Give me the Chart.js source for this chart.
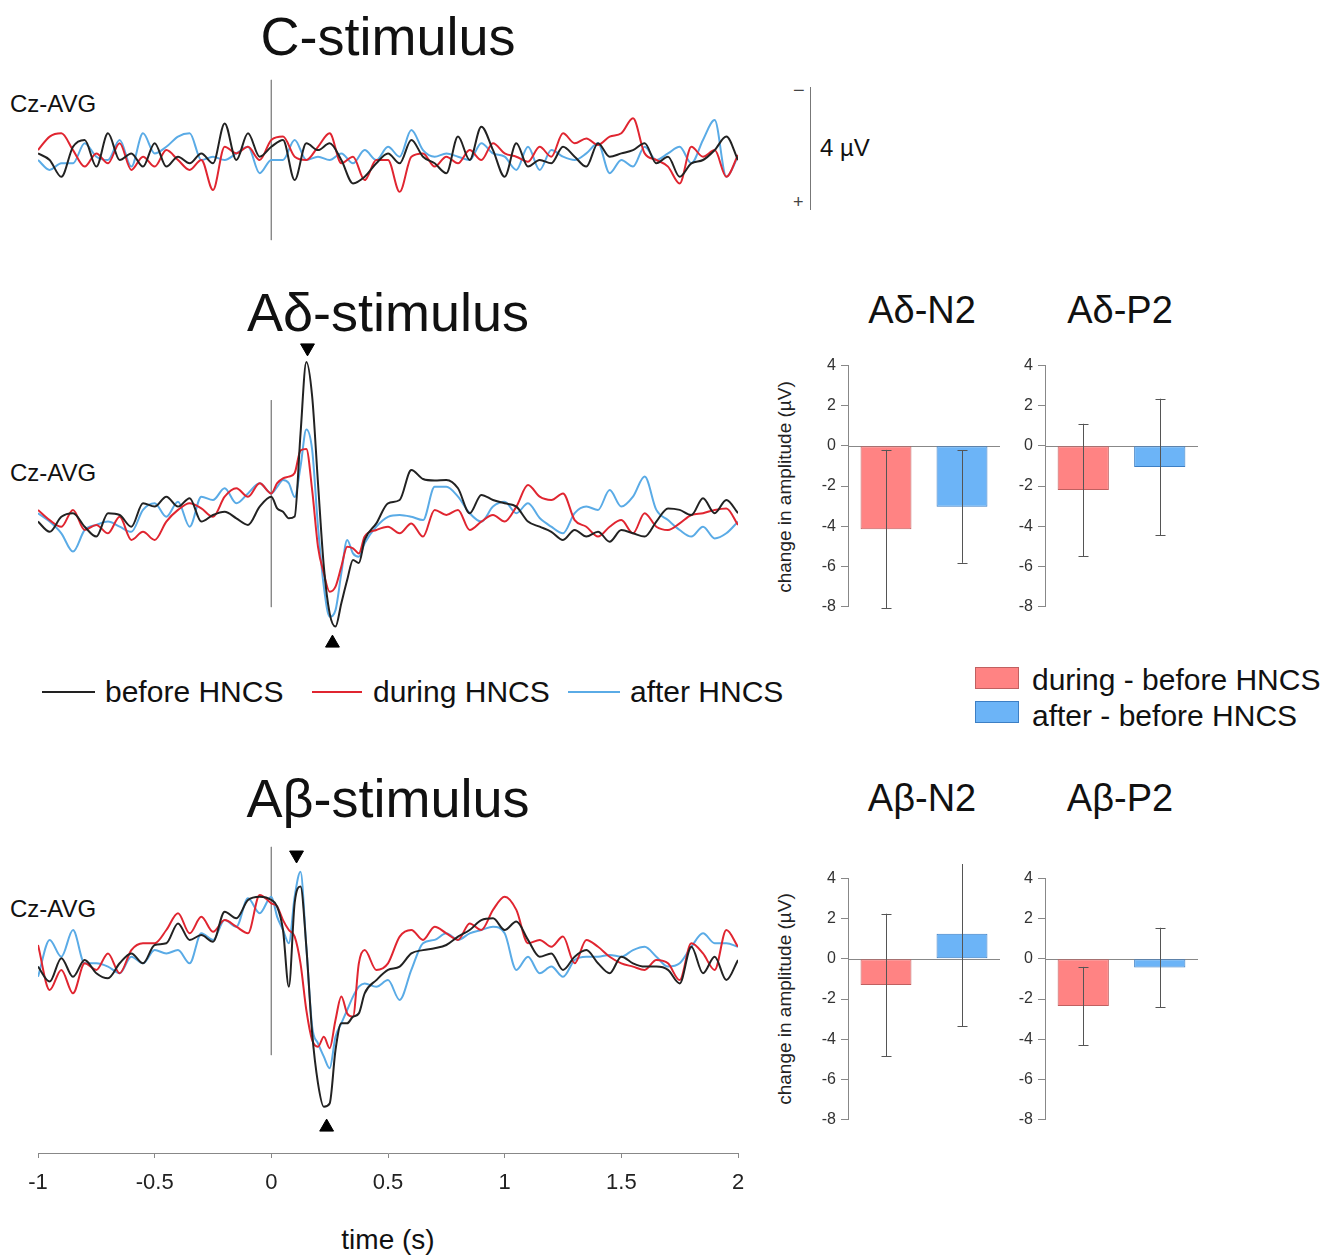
<!DOCTYPE html>
<html>
<head>
<meta charset="utf-8">
<script src="https://cdn.jsdelivr.net/npm/chart.js@4.4.1/dist/chart.umd.min.js"></script>
<style>
  body { margin: 0; background: #fff; font-family: "Liberation Sans", Arial, sans-serif; color: #111; }
  #page { position: relative; width: 1340px; height: 1256px; overflow: hidden; }
  canvas { position: absolute; }
  .t { position: absolute; line-height: 1; white-space: nowrap; }
  .c { transform: translateX(-50%); }
  .ytitle { position: absolute; font-size: 19px; line-height: 1; white-space: nowrap; color: #222;
            transform: translate(-50%, -50%) rotate(-90deg); }
  .lline { position: absolute; height: 2px; }
  .lbox { position: absolute; width: 44px; height: 22px; box-sizing: border-box; }
</style>
</head>
<body>
<div id="page">
  <div class="t c" style="left:388px; top:9px; font-size:54px;">C-stimulus</div>
  <div class="t c" style="left:388px; top:285px; font-size:54px;">A&delta;-stimulus</div>
  <div class="t c" style="left:388px; top:771px; font-size:54px;">A&beta;-stimulus</div>

  <div class="t" style="left:10px; top:92px; font-size:24px;">Cz-AVG</div>
  <div class="t" style="left:10px; top:461px; font-size:24px;">Cz-AVG</div>
  <div class="t" style="left:10px; top:897px; font-size:24px;">Cz-AVG</div>

  <div class="t c" style="left:922px; top:291px; font-size:38px;">A&delta;-N2</div>
  <div class="t c" style="left:1120px; top:291px; font-size:38px;">A&delta;-P2</div>
  <div class="t c" style="left:922px; top:779px; font-size:38px;">A&beta;-N2</div>
  <div class="t c" style="left:1120px; top:779px; font-size:38px;">A&beta;-P2</div>

  <div class="ytitle" style="left:784px; top:487px;">change in amplitude (&micro;V)</div>
  <div class="ytitle" style="left:784px; top:999px;">change in amplitude (&micro;V)</div>

  <!-- 4 uV scale bar -->
  <div style="position:absolute; left:810px; top:87px; width:1px; height:123px; background:#777;"></div>
  <div class="t" style="left:793px; top:80px; font-size:20px; color:#444;">&minus;</div>
  <div class="t" style="left:793px; top:193px; font-size:18px; color:#444;">+</div>
  <div class="t" style="left:820px; top:136px; font-size:24px;">4 &micro;V</div>

  <!-- trace legend -->
  <div class="lline" style="left:42px; top:691px; width:53px; background:#222;"></div>
  <div class="t" style="left:105px; top:677px; font-size:30px;">before HNCS</div>
  <div class="lline" style="left:312px; top:691px; width:50px; background:#e02530;"></div>
  <div class="t" style="left:373px; top:677px; font-size:30px;">during HNCS</div>
  <div class="lline" style="left:568px; top:691px; width:52px; background:#5aabe6;"></div>
  <div class="t" style="left:630px; top:677px; font-size:30px;">after HNCS</div>

  <!-- bar legend -->
  <div class="lbox" style="left:975px; top:667px; background:#ff8383; border:1px solid #c06060;"></div>
  <div class="t" style="left:1032px; top:665px; font-size:30px;">during - before HNCS</div>
  <div class="lbox" style="left:975px; top:701px; background:#6cb4f7; border:1px solid #3d7fc4;"></div>
  <div class="t" style="left:1032px; top:701px; font-size:30px;">after - before HNCS</div>

  <div class="t c" style="left:388px; top:1226px; font-size:28px;">time (s)</div>

  <canvas id="erpC" width="750" height="200" style="left:13px; top:60px;"></canvas>
  <canvas id="erpAd" width="750" height="356" style="left:13px; top:325px;"></canvas>
  <canvas id="erpAb" width="750" height="383" style="left:13px; top:815px;"></canvas>

  <canvas id="barAdN2" width="206" height="270" style="left:798px; top:351px;"></canvas>
  <canvas id="barAdP2" width="207" height="270" style="left:995px; top:351px;"></canvas>
  <canvas id="barAbN2" width="206" height="270" style="left:798px; top:864px;"></canvas>
  <canvas id="barAbP2" width="207" height="270" style="left:995px; top:864px;"></canvas>
</div>

<script>
// time points (s)
var timesC = [-1,-0.95,-0.9,-0.85,-0.8,-0.75,-0.7,-0.65,-0.6,-0.55,-0.5,-0.45,-0.4,-0.35,-0.3,-0.25,-0.2,-0.15,-0.1,-0.05,0,
  0.05,0.1,0.15,0.2,0.25,0.3,0.35,0.4,0.45,0.5,0.55,0.6,0.65,0.7,0.75,0.8,0.85,0.9,0.95,1,
  1.05,1.1,1.15,1.2,1.25,1.3,1.35,1.4,1.45,1.5,1.55,1.6,1.65,1.7,1.75,1.8,1.85,1.9,1.95,2];
var timesA = [-1,-0.95,-0.9,-0.85,-0.8,-0.75,-0.7,-0.65,-0.6,-0.55,-0.5,-0.45,-0.4,-0.35,-0.3,-0.25,-0.2,-0.15,-0.1,-0.05,0,
  0.025,0.05,0.075,0.1,0.125,0.15,0.175,0.2,0.225,0.25,0.275,0.3,0.325,0.35,0.375,0.4,
  0.45,0.5,0.55,0.6,0.65,0.7,0.75,0.8,0.85,0.9,0.95,1,1.05,1.1,1.15,1.2,1.25,1.3,1.35,1.4,1.45,1.5,1.55,1.6,1.65,1.7,1.75,1.8,1.85,1.9,1.95,2];

// C-stimulus (uV, negative up)
var cBefore = [-0.22,0,0.56,-0.44,-0.67,0.22,-0.89,0,-0.22,0.22,-0.56,0.22,-0.11,0.11,-0.22,0.11,-1.22,0,-0.89,-0.11,-0.44,
  -0.67,0.67,-0.56,-0.33,-0.56,0,0.78,0.56,0.11,-0.22,0.11,-0.67,-0.11,0.11,0.44,-0.78,0,-1.11,-0.33,0.56,
  -0.56,0.22,0,0.11,-0.44,-0.11,0.22,-0.56,-0.11,-0.22,-0.33,-0.56,0.11,-0.11,0.56,0.11,0,-0.33,-0.78,0];
var cDuring = [-0.33,-0.78,-0.89,-0.33,0.22,-0.22,0.11,-0.56,0.33,-0.11,0.22,-0.33,0,0.33,0,1.0,-0.44,-0.22,-0.44,0,-0.67,
  -0.78,-0.11,0,-0.44,-0.89,0.11,-0.11,0.67,0,0,1.06,-0.11,-0.22,0.22,-0.11,0.11,-0.33,0,-0.56,-0.22,
  -0.11,0.06,-0.44,-0.11,-0.89,-0.56,-0.72,-0.5,-0.78,-0.89,-1.39,-0.22,0,0.22,0.78,-0.44,-0.11,-0.33,0.56,-0.17];
var cAfter = [0,0.33,0.11,0.11,-0.56,-0.11,0,-0.67,0.22,-0.89,-0.22,-0.44,-0.78,-0.89,0,-0.11,0,-0.22,-0.44,0.44,0,
  0,-0.67,0,-0.11,0,-0.22,0.11,-0.33,0,-0.44,-0.11,-1.0,-0.33,-0.11,-0.22,-0.11,0,-0.56,-0.22,-0.11,
  0.33,-0.44,0.33,-0.33,-0.11,0,-0.22,-0.56,0.44,0,0.22,-0.44,0,-0.22,-0.44,0.11,-0.67,-1.33,0.56,-0.11];

// Ad-stimulus
var adBefore = [0.62,0.96,0.46,0.34,0.79,1.12,0.34,0.40,0.79,0.01,0.12,-0.21,0.12,-0.16,0.62,0.40,0.29,0.51,0.73,0.12,-0.21,
  0.18,0.29,0.51,0.45,-2.3,-4.7,-3.55,-0.66,2.12,3.68,4.12,3.34,2.57,1.9,2.0,1.23,
  0.68,0.01,-0.1,-1.1,-0.8,-0.75,-0.77,-0.49,0.34,-0.27,-0.1,0.01,0.12,0.62,0.79,0.96,1.23,0.9,1.12,0.96,
  1.29,0.9,1.01,1.12,0.62,0.18,0.23,0.40,-0.16,0.34,-0.1,0.34];
var adDuring = [0.23,0.57,0.79,0.23,0.9,0.73,1.01,0.46,1.23,0.96,1.23,0.62,0.23,0.01,0.18,0.46,-0.21,-0.49,-0.21,-0.66,-0.32,
  -0.66,-0.82,-0.88,-1.0,-1.75,-1.8,-0.43,1.46,2.34,2.96,2.79,2.12,1.46,1.51,1.68,1.12,
  0.9,0.79,1.01,0.68,1.12,0.23,0.4,0.23,0.9,0.62,0.4,0.62,0.12,-0.6,-0.21,-0.1,-0.32,0.57,0.79,1.12,
  0.79,0.57,1.01,0.34,0.79,0.9,0.68,0.4,0.34,0.23,0.18,0.73];
var adAfter = [0.34,0.62,1.01,1.62,0.9,0.73,0.62,0.79,0.96,0.23,0.01,0.46,-0.04,0.79,-0.21,-0.1,-0.49,0.01,-0.32,-0.66,-0.32,
  -0.54,-0.77,-0.66,-0.2,-1.21,-2.45,-1.77,0.79,2.79,3.79,3.57,2.34,1.23,1.68,1.79,1.34,
  0.79,0.46,0.4,0.46,0.57,-0.54,-0.54,-0.21,0.34,0.62,0.12,-0.04,0.34,0.01,0.5,0.79,1.01,0.34,0.12,0.23,
  -0.43,0.12,-0.21,-0.88,0.23,0.57,0.9,1.12,0.79,1.18,1.01,0.62];

// Ab-stimulus
var abBefore = [0.52,1.02,0.24,0.86,0.3,0.74,0.91,0.41,0.08,0.41,-0.2,-0.26,-0.92,-0.37,-0.53,-0.31,-1.31,-1.09,-1.7,-1.81,-1.7,
  -1.48,-0.7,1.19,-1.6,-2.15,-0.14,2.74,4.41,5.19,5.08,3.3,2.41,2.41,2.19,2.08,1.41,
  0.97,0.63,0.52,0.08,-0.03,-0.09,-0.2,-0.48,-0.7,-1.03,-1.09,-0.7,-0.98,-0.37,0.19,0.08,0.63,0.19,-0.03,0.41,
  0.74,0.19,0.41,0.52,0.52,0.63,1.08,-0.14,0.74,0.19,0.97,0.3];
var abDuring = [-0.2,1.3,0.63,1.41,0.41,0.63,0.08,0.74,-0.03,-0.26,-0.26,-0.7,-1.26,-0.59,-1.14,-0.64,-1.03,-0.81,-0.59,-1.87,-1.59,
  -1.48,-1.03,-0.7,-0.48,0.41,1.97,2.97,3.19,2.86,3.24,2.3,1.52,2.08,2.19,0.41,-0.03,
  0.63,0.41,-0.48,-0.7,-0.37,-0.81,-0.59,-0.37,-0.92,-0.7,-1.37,-1.81,-1.37,-0.26,-0.37,-0.14,-0.48,0.41,-0.37,-0.14,
  0.19,0.41,0.52,0.63,0.3,0.41,0.97,-0.26,0.08,0.63,-0.7,-0.14];
var abAfter = [0.86,-0.37,0.19,-0.7,0.41,0.41,0.52,0.74,0.19,0.41,-0.03,0.08,-0.03,0.41,-0.59,-0.37,-1.03,-0.81,-1.76,-1.26,-1.81,
  -1.14,-0.7,-0.26,-1.81,-2.64,-0.14,2.52,3.08,3.52,3.91,2.86,2.41,1.97,1.52,1.19,1.08,
  1.19,0.97,1.63,0.63,-0.26,-0.37,-0.59,-0.37,-0.59,-0.7,-0.81,-0.59,0.63,0.19,0.74,0.52,0.86,0.3,0.19,0.19,
  0.13,0.19,-0.03,-0.14,0.19,0.52,0.41,-0.14,-0.59,-0.26,-0.26,-0.14];

// stimulus onset line extent (uV) and peak markers
var cStim = [-2.67, 2.67];
var adStim = [-3.43, 3.47];
var abStim = [-3.47, 3.47];
var adPeakT = [0.155, 0.262], adPeakV = [-5.17, 4.67];
var abPeakT = [0.108, 0.237], abPeakV = [-3.2, 5.87];
var peakRot = [180, 0];

var timeTicks = [-1, -0.5, 0, 0.5, 1, 1.5, 2];

// bar charts: mean change and SD
var barGroups = ['during - before HNCS', 'after - before HNCS'];
var adN2Mean = [-4.15, -3.03], adN2Sd = [3.95, 2.8];
var adP2Mean = [-2.2, -1.05],  adP2Sd = [3.3, 3.4];
var abN2Mean = [-1.3, 1.25],   abN2Sd = [3.55, 4.6];
var abP2Mean = [-2.35, -0.43], abP2Sd = [1.95, 1.98];

var colBefore = '#222222', colDuring = '#e02530', colAfter = '#5aabe6';

Chart.defaults.font.family = "'Liberation Sans', Arial, sans-serif";
Chart.defaults.color = '#222';

function toPts(times, vals) {
  return times.map(function(t, i) { return { x: t, y: vals[i] }; });
}

function makeErp(id, times, before, during, after, stim, yMin, yMax, peakT, peakV, showAxis) {
  var traces = [[before, colBefore], [during, colDuring], [after, colAfter]];
  var datasets = [];
  if (peakT) {
    datasets.push({
      data: toPts(peakT, peakV), showLine: false,
      pointStyle: 'triangle', pointRadius: 8, rotation: peakRot,
      backgroundColor: '#000', borderColor: '#000', borderWidth: 1
    });
  }
  traces.forEach(function(tr) {
    datasets.push({
      data: toPts(times, tr[0]), showLine: true, borderColor: tr[1], borderWidth: 2,
      pointRadius: 0, cubicInterpolationMode: 'monotone'
    });
  });
  datasets.push({
    data: [{ x: 0, y: stim[0] }, { x: 0, y: stim[1] }], showLine: true,
    borderColor: '#8a8a8a', borderWidth: 1, pointRadius: 0
  });

  return new Chart(document.getElementById(id), {
    type: 'scatter',
    data: { datasets: datasets },
    options: {
      responsive: false, animation: false, devicePixelRatio: 1,
      layout: { padding: { top: 10, bottom: showAxis ? 0 : 10, left: 25, right: 25 } },
      plugins: { legend: { display: false }, tooltip: { enabled: false } },
      scales: {
        x: {
          type: 'linear', min: -1, max: 2, display: showAxis,
          afterBuildTicks: function(s) { s.ticks = timeTicks.map(function(v) { return { value: v }; }); },
          afterFit: function(s) { if (showAxis) s.height = 45; },
          grid: { drawOnChartArea: false, tickLength: 5, color: '#888' },
          border: { color: '#888', width: 1 },
          ticks: { font: { size: 22 }, color: '#222', padding: 12, maxRotation: 0,
                   callback: function(v) { return String(v); } }
        },
        y: { type: 'linear', min: yMin, max: yMax, reverse: true, display: false }
      }
    }
  });
}

// zero line and error bars for the amplitude charts
var barExtras = {
  id: 'barExtras',
  beforeDatasetsDraw: function(chart) {
    var ctx = chart.ctx, a = chart.chartArea, y0 = chart.scales.y.getPixelForValue(0);
    ctx.save();
    ctx.strokeStyle = '#888'; ctx.lineWidth = 1;
    ctx.beginPath(); ctx.moveTo(a.left, Math.round(y0) + 0.5); ctx.lineTo(a.right, Math.round(y0) + 0.5); ctx.stroke();
    ctx.restore();
  },
  afterDatasetsDraw: function(chart) {
    var ctx = chart.ctx, ds = chart.data.datasets[0], meta = chart.getDatasetMeta(0), ys = chart.scales.y;
    ctx.save();
    ctx.strokeStyle = '#555'; ctx.lineWidth = 1;
    meta.data.forEach(function(bar, i) {
      var x = Math.round(bar.x) + 0.5;
      var lo = ys.getPixelForValue(ds.data[i] - ds.errors[i]);
      var hi = ys.getPixelForValue(ds.data[i] + ds.errors[i]);
      ctx.beginPath();
      ctx.moveTo(x, lo); ctx.lineTo(x, hi);
      ctx.moveTo(x - 5, Math.round(lo) + 0.5); ctx.lineTo(x + 5, Math.round(lo) + 0.5);
      ctx.moveTo(x - 5, Math.round(hi) + 0.5); ctx.lineTo(x + 5, Math.round(hi) + 0.5);
      ctx.stroke();
    });
    ctx.restore();
  }
};

function makeBars(id, means, sds) {
  return new Chart(document.getElementById(id), {
    type: 'bar',
    data: {
      labels: barGroups,
      datasets: [{
        data: means, errors: sds,
        backgroundColor: ['#ff8383', '#6cb4f7'],
        borderColor: ['#c06060', '#3d7fc4'],
        borderWidth: 1, borderSkipped: false,
        barPercentage: 0.67, categoryPercentage: 1.0
      }]
    },
    options: {
      responsive: false, animation: false, devicePixelRatio: 1,
      layout: { padding: { top: 10, bottom: 10, left: 0, right: 4 } },
      plugins: { legend: { display: false }, tooltip: { enabled: false } },
      scales: {
        x: { display: false },
        y: {
          min: -8, max: 4,
          afterFit: function(s) { s.width = 50; },
          ticks: { stepSize: 2, font: { size: 16 }, color: '#333', padding: 5 },
          grid: { drawOnChartArea: false, tickLength: 7, color: '#888' },
          border: { color: '#888', width: 1 }
        }
      }
    },
    plugins: [barExtras]
  });
}

makeErp('erpC', timesC, cBefore, cDuring, cAfter, cStim, -3, 3, null, null, false);
makeErp('erpAd', timesA, adBefore, adDuring, adAfter, adStim, -5.6, 5.6, adPeakT, adPeakV, false);
makeErp('erpAb', timesA, abBefore, abDuring, abAfter, abStim, -4.2, 6.733, abPeakT, abPeakV, true);

makeBars('barAdN2', adN2Mean, adN2Sd);
makeBars('barAdP2', adP2Mean, adP2Sd);
makeBars('barAbN2', abN2Mean, abN2Sd);
makeBars('barAbP2', abP2Mean, abP2Sd);
</script>
</body>
</html>
